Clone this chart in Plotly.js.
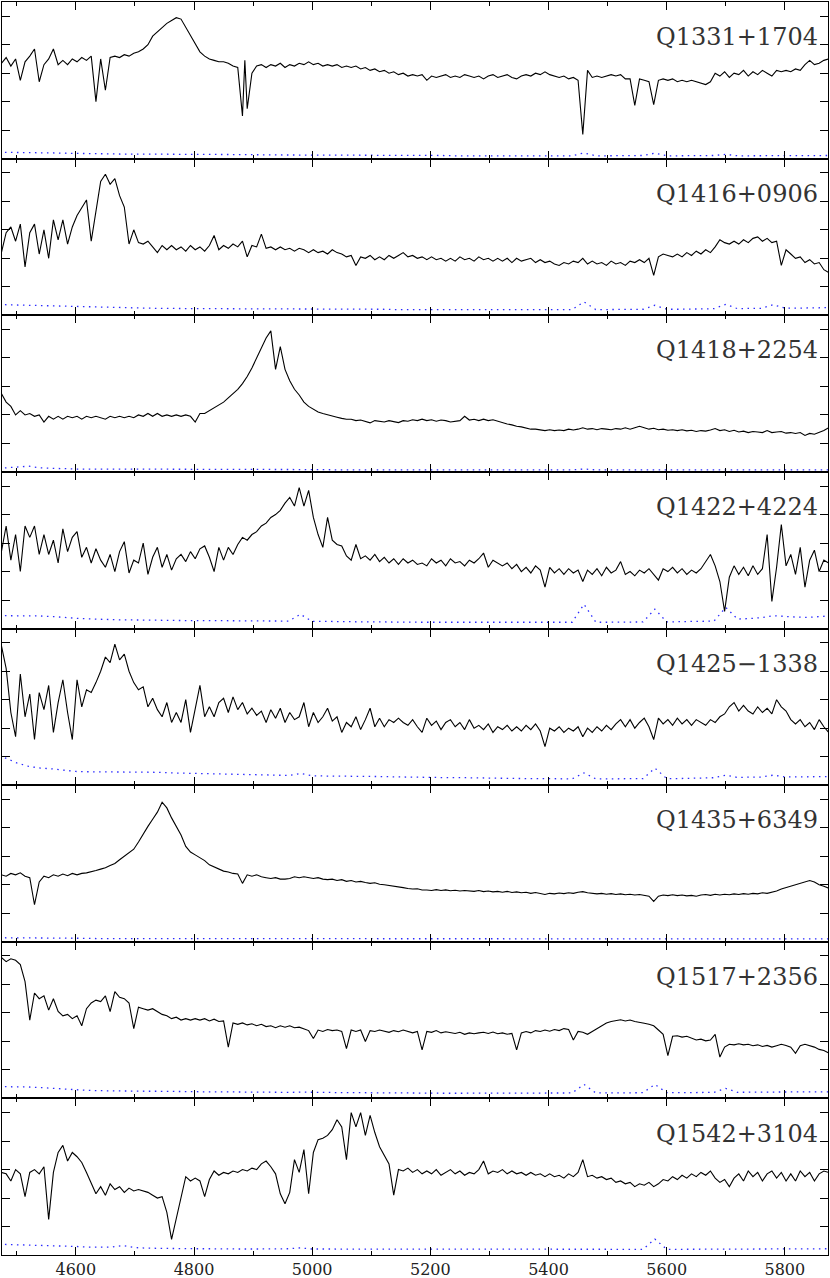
<!DOCTYPE html>
<html><head><meta charset="utf-8">
<script src="https://cdn.plot.ly/plotly-3.0.1.min.js"></script>
<style>body{margin:0;background:#fff}#chart{width:830px;height:1278px}</style>
</head><body><div id="chart"></div>
<script>
// wavelength sampling of the flux arrays (Angstrom)
const lambdaStart = 4474, lambdaStep = 8;
// wavelength sampling of the error arrays
const errStart = 4480, errStep = 20;

const names = ["Q1331+1704","Q1416+0906","Q1418+2254","Q1422+4224","Q1425\u22121338","Q1435+6349","Q1517+2356","Q1542+3104"];
const xTicks = [4600,4800,5000,5200,5400,5600,5800];

const q1331 = [3.35,3.55,3.25,3.5,2.75,3.4,3.6,3.85,2.7,3.3,
3.5,3.85,3.3,3.45,3.3,3.5,3.4,3.55,3.45,3.6,
2.0,3.5,2.4,3.55,3.6,3.55,3.65,3.6,3.7,3.75,
3.85,4.0,4.3,4.45,4.6,4.75,4.85,4.95,4.9,4.6,
4.35,4.05,3.75,3.6,3.5,3.45,3.4,3.4,3.35,3.25,
3.2,1.5,1.75,3.0,3.25,3.3,3.2,3.3,3.25,3.35,
3.2,3.3,3.25,3.35,3.3,3.4,3.3,3.35,3.25,3.3,
3.25,3.3,3.2,3.25,3.2,3.25,3.15,3.2,3.1,3.15,
3.05,3.1,3.0,3.05,2.95,3.0,2.9,2.95,2.9,2.95,
2.75,2.9,2.85,2.9,2.95,2.85,2.9,2.85,2.95,2.9,
2.85,2.9,2.8,2.9,2.95,2.85,2.9,2.95,2.85,2.8,
2.9,2.95,2.9,3.0,2.95,3.05,2.95,2.9,2.85,2.9,
2.8,2.85,2.75,0.85,3.1,2.85,2.9,2.85,2.9,2.95,
2.9,2.95,2.8,2.8,1.87,2.8,2.75,2.7,1.9,2.75,
2.8,2.75,2.8,2.7,2.75,2.7,2.75,2.7,2.65,2.6,
2.7,3.0,2.9,3.05,2.85,3.0,2.95,3.1,2.9,3.05,
2.95,3.1,3.0,2.9,3.1,3.05,3.1,3.05,3.15,3.1,
3.3,3.45,3.3,3.35,3.45,3.5];
const q1331Extra = [[4886,3.45]];

const q1416 = [2.2,2.9,3.1,2.6,3.2,1.7,2.9,3.2,2.15,3.0,
2.0,3.35,2.65,3.35,2.5,3.1,3.5,3.8,4.05,2.6,
3.6,4.7,4.95,4.6,4.8,4.2,3.8,2.5,3.0,2.55,
2.5,2.6,2.4,2.2,2.45,2.3,2.45,2.3,2.4,2.25,
2.45,2.3,2.4,2.25,2.45,2.8,2.3,2.45,2.35,2.5,
2.4,2.6,2.05,2.45,2.4,2.85,2.35,2.4,2.3,2.4,
2.3,2.35,2.25,2.35,2.3,2.2,2.3,2.2,2.25,2.15,
2.3,2.2,2.15,2.05,2.1,1.75,2.05,2.0,2.1,1.95,
2.05,1.95,2.1,2.0,2.1,2.2,2.05,2.1,2.0,2.05,
1.95,2.05,1.95,2.0,1.9,2.0,1.9,2.05,1.95,2.0,
1.9,2.05,1.95,2.0,1.9,2.0,1.9,2.0,1.85,2.0,
1.9,1.95,2.0,1.85,1.95,1.85,1.9,1.8,1.75,1.85,
1.8,1.9,1.85,2.0,1.8,1.9,1.8,1.85,1.75,1.9,
1.8,1.85,1.75,1.9,1.85,1.95,1.85,2.0,1.4,2.05,
2.15,2.1,2.05,2.15,2.05,2.2,2.1,2.25,2.15,2.3,
2.2,2.4,2.65,2.55,2.5,2.6,2.5,2.65,2.55,2.7,
2.75,2.6,2.7,2.55,2.6,1.75,2.3,2.15,2.0,2.05,
1.85,1.95,1.8,1.85,1.6,1.5];

const q1418 = [2.75,2.45,2.3,2.0,2.15,2.0,2.05,1.95,2.0,1.75,
1.95,1.85,1.95,1.85,1.95,1.9,1.95,1.85,1.95,1.9,
1.95,1.9,1.85,1.95,1.9,1.95,1.9,1.95,1.9,2.0,
1.95,2.05,1.95,2.05,1.95,2.0,1.95,2.0,1.95,2.0,
1.95,1.75,2.05,2.05,2.15,2.25,2.35,2.45,2.6,2.75,
2.9,3.1,3.35,3.65,4.0,4.4,4.7,4.95,3.6,4.4,
3.6,3.2,2.9,2.7,2.45,2.3,2.2,2.1,2.05,2.0,
1.95,1.92,1.88,1.85,1.85,1.8,1.82,1.78,1.72,1.8,
1.78,1.75,1.8,1.77,1.73,1.8,1.78,1.83,1.8,1.85,
1.8,1.83,1.78,1.82,1.8,1.75,1.78,1.8,1.95,1.82,
1.85,1.8,1.85,1.8,1.83,1.78,1.72,1.68,1.65,1.6,
1.58,1.55,1.5,1.5,1.47,1.45,1.48,1.45,1.47,1.45,
1.5,1.47,1.5,1.55,1.5,1.52,1.48,1.52,1.5,1.48,
1.52,1.5,1.55,1.5,1.55,1.6,1.55,1.5,1.53,1.48,
1.5,1.46,1.48,1.45,1.48,1.44,1.46,1.42,1.45,1.43,
1.47,1.52,1.45,1.48,1.42,1.46,1.4,1.43,1.38,1.42,
1.4,1.38,1.45,1.38,1.4,1.42,1.36,1.38,1.35,1.38,
1.28,1.35,1.32,1.38,1.45,1.55];

const q1422 = [2.7,3.6,2.4,3.3,2.0,3.6,3.2,3.6,2.6,3.3,
2.6,3.1,2.3,3.5,2.7,3.2,3.4,2.5,2.85,2.3,
2.8,2.4,2.15,2.6,2.0,2.7,3.05,1.95,2.4,2.3,
3.0,1.9,2.5,2.85,2.15,2.6,2.05,2.45,2.6,2.35,
2.7,2.45,2.8,2.9,2.5,2.0,2.85,2.4,2.85,2.6,
2.95,3.2,3.1,3.3,3.4,3.6,3.7,3.9,4.0,4.15,
4.4,4.6,4.3,4.95,4.3,4.85,3.9,3.3,2.85,3.9,
3.1,2.95,2.9,2.55,2.4,2.95,2.45,2.55,2.4,2.6,
2.35,2.5,2.3,2.45,2.25,2.45,2.3,2.4,2.25,2.3,
2.2,2.45,2.3,2.4,2.2,2.45,2.3,2.35,2.2,2.4,
2.3,2.45,2.65,2.15,2.4,2.3,2.2,2.3,2.1,2.25,
2.0,2.15,1.95,2.2,2.05,1.45,2.15,1.95,2.1,1.9,
2.1,1.95,2.05,1.65,2.05,1.9,2.1,1.85,2.15,1.95,
2.05,2.35,1.9,2.0,1.85,2.05,1.95,2.1,1.9,1.7,
2.1,2.0,2.15,1.95,2.1,1.9,2.05,1.95,2.1,2.35,
2.6,2.2,1.65,0.6,1.8,2.2,1.9,2.15,1.85,2.2,
1.9,2.1,3.3,0.95,2.15,3.65,2.2,2.6,1.9,2.85,
1.45,2.4,2.75,2.0,2.4,2.3];

const q1425 = [4.9,4.1,2.55,1.7,3.9,2.4,3.2,1.6,3.25,2.65,
3.5,1.85,2.9,3.7,2.55,1.6,3.7,2.75,3.35,3.25,
3.6,4.0,4.5,4.3,4.95,4.4,4.6,4.0,3.6,3.35,
3.45,2.75,3.05,2.65,2.4,2.9,2.2,2.55,2.2,3.0,
1.85,2.65,3.5,2.4,2.75,2.4,2.9,3.05,2.55,3.1,
2.65,2.9,2.5,2.7,2.45,2.6,2.2,2.65,2.35,2.7,
2.2,2.55,2.3,2.4,2.9,2.05,2.55,2.2,2.4,2.7,
2.25,2.4,1.85,2.2,2.05,2.4,1.95,2.3,2.7,2.05,
2.35,2.05,2.3,2.2,2.35,2.2,2.1,2.3,2.05,1.85,
2.35,2.1,2.25,1.95,2.2,2.3,2.05,2.2,1.95,2.3,
2.0,2.1,1.95,2.15,1.85,2.05,1.95,2.1,1.9,2.05,
1.9,2.1,1.95,2.15,1.9,1.35,2.0,1.9,2.05,1.85,
2.0,1.9,2.05,1.7,2.0,1.85,2.05,1.9,2.1,1.95,
2.15,2.3,2.05,2.3,2.0,2.2,2.35,2.05,1.6,2.35,
2.15,2.3,2.1,2.35,2.15,2.3,2.1,2.3,2.2,2.1,
2.3,2.2,2.4,2.5,2.75,2.9,2.6,2.8,2.6,2.5,
2.75,2.55,2.7,2.5,3.0,2.75,2.6,2.3,2.15,2.3,
2.05,2.2,1.95,2.3,2.05,1.85];

const q1435 = [2.35,2.3,2.4,2.35,2.42,2.3,2.25,1.3,2.1,2.3,
2.25,2.35,2.3,2.38,2.32,2.4,2.35,2.4,2.42,2.45,
2.5,2.55,2.6,2.68,2.75,2.88,3.0,3.12,3.25,3.5,
3.8,4.05,4.3,4.55,4.9,4.7,4.35,4.05,3.75,3.35,
3.15,3.05,2.95,2.85,2.7,2.62,2.55,2.48,2.45,2.4,
2.38,2.05,2.35,2.3,2.35,2.28,2.25,2.22,2.25,2.2,
2.2,2.22,2.28,2.25,2.28,2.24,2.22,2.25,2.2,2.18,
2.2,2.15,2.18,2.12,2.15,2.1,2.12,2.08,2.05,2.07,
2.02,2.0,1.98,1.95,1.93,1.9,1.87,1.85,1.86,1.82,
1.82,1.8,1.83,1.8,1.82,1.79,1.81,1.78,1.8,1.78,
1.77,1.8,1.76,1.78,1.75,1.77,1.74,1.77,1.73,1.75,
1.72,1.74,1.7,1.73,1.69,1.66,1.7,1.68,1.71,1.69,
1.72,1.7,1.74,1.76,1.72,1.7,1.68,1.7,1.67,1.69,
1.66,1.68,1.65,1.67,1.64,1.66,1.63,1.6,1.42,1.6,
1.64,1.62,1.65,1.62,1.64,1.61,1.63,1.6,1.64,1.66,
1.63,1.67,1.64,1.67,1.65,1.68,1.66,1.69,1.67,1.7,
1.68,1.72,1.7,1.74,1.78,1.85,1.9,1.95,2.0,2.05,
2.1,2.15,2.1,2.0,1.95,1.88];

const q1517 = [4.95,4.8,4.9,4.85,4.7,4.1,2.75,3.7,3.5,3.6,
3.1,3.5,3.05,2.9,2.95,2.8,2.9,2.55,3.15,3.35,
3.45,3.4,3.6,3.05,3.75,3.55,3.5,3.35,2.45,3.2,
3.15,3.1,3.15,3.05,2.95,2.9,2.8,2.85,2.75,2.8,
2.75,2.8,2.75,2.8,2.72,2.78,2.7,2.72,1.8,2.65,
2.6,2.65,2.58,2.62,2.55,2.6,2.52,2.55,2.48,2.55,
2.5,2.55,2.48,2.5,2.45,2.38,2.1,2.4,2.35,2.42,
2.38,2.4,2.35,1.75,2.4,2.35,2.4,2.0,2.38,2.35,
2.4,2.35,2.32,2.38,2.34,2.4,2.35,2.3,2.35,1.7,
2.35,2.32,2.38,2.3,2.34,2.3,2.28,2.32,2.25,2.3,
2.27,2.3,2.32,2.28,2.33,2.27,2.3,2.25,2.28,1.7,
2.3,2.35,2.3,2.38,2.35,2.4,2.36,2.42,2.38,2.45,
2.42,2.05,2.35,2.32,2.25,2.35,2.45,2.55,2.65,2.7,
2.73,2.76,2.72,2.75,2.7,2.68,2.64,2.6,2.55,2.4,
2.25,1.5,2.18,2.2,2.15,2.18,2.12,2.05,2.08,2.02,
2.05,2.25,1.45,1.8,1.9,1.88,1.92,1.88,1.9,1.85,
1.88,1.82,1.86,1.8,1.85,1.9,1.86,1.8,1.58,1.85,
1.9,1.85,1.8,1.72,1.68,1.6];

const q1542 = [2.9,2.85,2.6,3.0,2.85,2.05,2.9,3.0,2.85,3.1,
1.25,2.9,3.6,3.85,3.3,3.6,3.45,3.25,2.9,2.55,
2.15,2.4,2.1,2.5,2.3,2.4,2.2,2.35,2.25,2.3,
2.25,2.2,2.1,2.0,2.05,1.5,0.55,1.3,2.05,2.75,
2.6,2.7,2.6,2.05,2.65,2.95,2.8,2.9,2.85,2.95,
2.9,3.0,2.95,3.05,3.0,3.2,3.3,3.1,2.85,2.15,
1.8,2.2,3.35,2.9,3.7,2.15,3.6,4.05,4.1,4.2,
4.4,4.75,4.5,3.35,5.0,4.5,5.0,4.2,4.9,4.3,
3.8,3.5,3.2,2.1,3.0,2.95,3.05,2.9,3.0,2.85,
2.95,2.85,3.0,2.8,2.9,3.0,2.85,2.95,2.8,2.9,
2.85,3.0,3.3,2.85,2.95,2.9,3.0,2.85,2.95,2.85,
2.9,2.8,2.9,2.8,2.85,2.75,2.85,2.75,2.8,2.7,
2.85,2.75,2.9,3.35,2.75,2.8,2.7,2.75,2.65,2.7,
2.55,2.6,2.5,2.55,2.4,2.5,2.45,2.55,2.4,2.5,
2.65,2.6,2.75,2.65,2.8,2.7,2.85,2.75,2.9,2.8,
2.95,2.7,2.55,2.65,2.4,2.7,2.85,2.6,2.95,2.75,
2.9,2.6,2.85,2.95,2.7,2.9,2.6,2.85,2.6,2.95,
2.75,2.9,2.6,2.85,2.95,2.9];

const err1331 = [0.22,0.22,0.21,0.21,0.2,0.19,0.18,0.18,0.17,0.17,
0.16,0.16,0.16,0.15,0.15,0.15,0.15,0.14,0.14,0.14,
0.15,0.14,0.13,0.13,0.13,0.13,0.13,0.12,0.12,0.12,
0.12,0.12,0.11,0.11,0.11,0.11,0.11,0.11,0.1,0.1,
0.1,0.1,0.1,0.1,0.1,0.1,0.11,0.1,0.1,0.2,
0.1,0.1,0.1,0.1,0.11,0.19,0.1,0.1,0.1,0.1,
0.11,0.15,0.1,0.1,0.1,0.11,0.11,0.1,0.11,0.11,0.11];
const err1416 = [0.37,0.36,0.35,0.34,0.33,0.31,0.29,0.28,0.27,0.27,
0.26,0.25,0.25,0.24,0.24,0.23,0.23,0.23,0.23,0.23,
0.22,0.23,0.22,0.22,0.22,0.21,0.22,0.21,0.21,0.21,
0.21,0.21,0.21,0.2,0.2,0.21,0.2,0.2,0.2,0.2,
0.2,0.21,0.2,0.2,0.2,0.2,0.21,0.2,0.2,0.47,
0.2,0.2,0.21,0.21,0.21,0.35,0.21,0.21,0.22,0.22,
0.23,0.38,0.23,0.24,0.24,0.37,0.25,0.25,0.26,0.26,0.27];
const err1418 = [0.14,0.16,0.2,0.14,0.12,0.11,0.1,0.1,0.1,0.1,
0.09,0.09,0.09,0.09,0.09,0.09,0.08,0.08,0.08,0.08,
0.08,0.08,0.08,0.08,0.08,0.08,0.08,0.08,0.07,0.07,
0.07,0.07,0.07,0.07,0.07,0.07,0.07,0.07,0.07,0.07,
0.07,0.07,0.07,0.07,0.07,0.07,0.07,0.07,0.07,0.1,
0.07,0.07,0.07,0.07,0.07,0.09,0.07,0.07,0.07,0.07,
0.07,0.07,0.07,0.07,0.07,0.07,0.07,0.07,0.07,0.07,0.07];
const err1422 = [0.45,0.45,0.45,0.44,0.42,0.38,0.36,0.34,0.32,0.31,
0.3,0.3,0.29,0.29,0.29,0.28,0.28,0.28,0.28,0.27,
0.27,0.27,0.26,0.26,0.26,0.5,0.25,0.25,0.24,0.24,
0.23,0.23,0.23,0.22,0.22,0.22,0.22,0.22,0.21,0.21,
0.21,0.21,0.21,0.21,0.21,0.21,0.22,0.22,0.22,0.85,
0.22,0.22,0.22,0.23,0.23,0.68,0.23,0.24,0.24,0.25,
0.26,0.74,0.33,0.35,0.38,0.45,0.42,0.4,0.39,0.42,0.45];
const err1425 = [0.96,0.78,0.66,0.6,0.57,0.52,0.48,0.47,0.47,0.47,
0.47,0.46,0.46,0.45,0.43,0.42,0.41,0.4,0.39,0.38,
0.37,0.36,0.35,0.34,0.34,0.41,0.33,0.32,0.32,0.31,
0.31,0.3,0.3,0.29,0.28,0.28,0.27,0.27,0.26,0.26,
0.25,0.25,0.24,0.24,0.23,0.23,0.23,0.22,0.22,0.43,
0.22,0.22,0.22,0.22,0.23,0.6,0.23,0.23,0.24,0.25,
0.26,0.35,0.27,0.28,0.28,0.35,0.29,0.29,0.3,0.3,0.3];
const err1435 = [0.14,0.14,0.13,0.13,0.13,0.12,0.12,0.12,0.11,0.11,
0.11,0.1,0.1,0.1,0.1,0.1,0.1,0.1,0.1,0.1,
0.1,0.1,0.1,0.1,0.1,0.1,0.1,0.1,0.1,0.1,
0.1,0.1,0.1,0.1,0.1,0.1,0.1,0.1,0.1,0.1,
0.1,0.1,0.1,0.1,0.1,0.1,0.1,0.1,0.1,0.11,
0.1,0.1,0.1,0.1,0.1,0.12,0.1,0.1,0.1,0.1,
0.1,0.1,0.1,0.1,0.1,0.1,0.1,0.1,0.1,0.1,0.1];
const err1517 = [0.41,0.41,0.4,0.38,0.35,0.32,0.29,0.28,0.27,0.26,
0.26,0.25,0.25,0.25,0.24,0.24,0.23,0.23,0.23,0.22,
0.22,0.22,0.22,0.21,0.21,0.22,0.21,0.2,0.2,0.2,
0.2,0.19,0.19,0.19,0.19,0.18,0.18,0.18,0.18,0.18,
0.18,0.18,0.18,0.18,0.18,0.18,0.19,0.19,0.19,0.49,
0.19,0.19,0.19,0.19,0.2,0.49,0.2,0.2,0.2,0.2,
0.21,0.35,0.21,0.22,0.22,0.22,0.22,0.23,0.23,0.23,0.23];
const err1542 = [0.37,0.36,0.35,0.35,0.34,0.32,0.3,0.28,0.27,0.28,
0.33,0.26,0.24,0.23,0.23,0.22,0.22,0.22,0.21,0.21,
0.21,0.21,0.21,0.21,0.22,0.25,0.21,0.21,0.21,0.21,
0.2,0.2,0.2,0.2,0.2,0.2,0.2,0.2,0.2,0.2,
0.2,0.2,0.2,0.2,0.2,0.2,0.2,0.2,0.2,0.22,
0.2,0.2,0.2,0.2,0.2,0.56,0.2,0.2,0.2,0.2,
0.2,0.21,0.2,0.2,0.2,0.2,0.21,0.21,0.21,0.22,0.22];

const spectra = [q1331,q1416,q1418,q1422,q1425,q1435,q1517,q1542];
const errors = [err1331,err1416,err1418,err1422,err1425,err1435,err1517,err1542];
const extras = [q1331Extra,[],[],[],[],[],[],[]];

const nP = spectra.length;
const traces = [];
const layout = {
  width: 830, height: 1278,
  margin: {l: 2, r: 2, t: 2, b: 23, pad: 0},
  paper_bgcolor: '#fff', plot_bgcolor: '#fff',
  showlegend: false,
  font: {family: 'DejaVu Serif', color: '#222'},
  annotations: []
};

for (let p = 0; p < nP; p++) {
  const s = p === 0 ? '' : String(p + 1);
  let pts = spectra[p].map((f, i) => [lambdaStart + i * lambdaStep, f]).concat(extras[p]);
  pts.sort((a, b) => a[0] - b[0]);
  traces.push({
    x: pts.map(d => d[0]), y: pts.map(d => d[1]),
    xaxis: 'x' + s, yaxis: 'y' + s, type: 'scatter', mode: 'lines',
    line: {color: '#000', width: 1.1}, hoverinfo: 'skip'
  });
  traces.push({
    x: errors[p].map((_, k) => errStart + k * errStep), y: errors[p],
    xaxis: 'x' + s, yaxis: 'y' + s, type: 'scatter', mode: 'lines',
    line: {color: '#2a2aff', width: 1.3, dash: '1.5px,4.5px'}, hoverinfo: 'skip'
  });
  layout['xaxis' + s] = {
    domain: [0, 1], range: [4475, 5873], anchor: 'y' + s,
    showline: true, linecolor: '#000', linewidth: 1, mirror: 'ticks',
    ticks: 'inside', ticklen: 8, tickwidth: 1, tickcolor: '#000',
    tickmode: 'array', tickvals: xTicks, ticktext: xTicks.map(String),
    minor: {ticks: 'inside', ticklen: 4, dtick: 100, tick0: 4500, tickcolor: '#000', tickwidth: 1, showgrid: false},
    showgrid: false, zeroline: false,
    showticklabels: p === nP - 1,
    tickfont: {family: 'DejaVu Serif', size: 16, color: '#222'}
  };
  layout['yaxis' + s] = {
    domain: [(nP - 1 - p) / nP, (nP - p) / nP], range: [0, 5.5], anchor: 'x' + s,
    showline: true, linecolor: '#000', linewidth: 1, mirror: 'ticks',
    ticks: 'inside', ticklen: 8, tickwidth: 1, tickcolor: '#000',
    dtick: 1, tick0: 0, showticklabels: false, showgrid: false, zeroline: false
  };
  layout.annotations.push({
    text: names[p], xref: 'paper', x: 0.99, xanchor: 'right',
    yref: 'y' + s + ' domain', y: 0.775, yanchor: 'middle',
    showarrow: false, font: {family: 'DejaVu Serif', size: 24, color: '#333'}
  });
}

Plotly.newPlot('chart', traces, layout, {staticPlot: true, displayModeBar: false});
</script>
</body></html>
